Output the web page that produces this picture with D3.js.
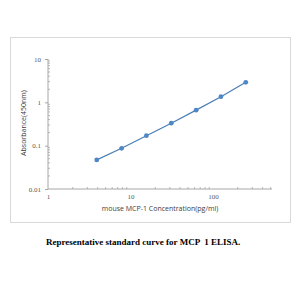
<!DOCTYPE html>
<html>
<head>
<meta charset="utf-8">
<script src="https://cdn.jsdelivr.net/npm/d3@7"></script>
<style>
  body { margin: 0; background: #fff; }
  svg { display: block; }
</style>
</head>
<body>
<script>
const WIDTH = 300;
const HEIGHT = 300;

// standard curve values
var concentrations = [3.9, 7.8, 15.6, 31.25, 62.5, 125, 250];
var absorbance = [0.047, 0.087, 0.17, 0.33, 0.66, 1.35, 2.9];
var xTicks = [1, 10, 100];
var yTicks = [0.01, 0.1, 1, 10];

var svg = d3.select('body').append('svg')
    .attr('width', WIDTH)
    .attr('height', HEIGHT);

// chart frame
svg.append('rect')
    .attr('x', 10.5).attr('y', 37.5)
    .attr('width', 280).attr('height', 185)
    .attr('fill', '#fff')
    .attr('stroke', '#d9d9d9');

var xScale = d3.scaleLog()
    .domain([1, 520])
    .range([48, 272]);
var yScale = d3.scaleLog()
    .domain([0.01, 10])
    .range([189, 59]);

// minor ticks
var xMinor = [];
for (var d = 1; d <= 100; d *= 10) {
    for (var k = 2; k <= 9; k++) if (d * k <= 520) xMinor.push(d * k);
}
var yMinor = [];
for (var e = 0.01; e < 10; e *= 10) {
    for (var m = 2; m <= 9; m++) yMinor.push(e * m);
}

var axisColor = '#a6a6a6';

svg.append('g').selectAll('line')
    .data(xMinor)
    .enter().append('line')
    .attr('x1', function (d) { return xScale(d); })
    .attr('x2', function (d) { return xScale(d); })
    .attr('y1', 189).attr('y2', 187)
    .attr('stroke', axisColor).attr('stroke-width', 0.8);

svg.append('g').selectAll('line')
    .data(yMinor)
    .enter().append('line')
    .attr('y1', function (d) { return yScale(d); })
    .attr('y2', function (d) { return yScale(d); })
    .attr('x1', 48).attr('x2', 50)
    .attr('stroke', axisColor).attr('stroke-width', 0.8);

// axes
var xAxis = d3.axisBottom(xScale)
    .tickValues(xTicks)
    .tickSize(0)
    .tickPadding(5)
    .tickFormat(d3.format('d'));
var yAxis = d3.axisLeft(yScale)
    .tickValues(yTicks)
    .tickSize(3)
    .tickPadding(4)
    .tickFormat(function (d) { return d >= 1 ? d3.format('d')(d) : String(+d.toFixed(2)); });

var gx = svg.append('g')
    .attr('transform', 'translate(0,189)')
    .call(xAxis);
var gy = svg.append('g')
    .attr('transform', 'translate(48,0)')
    .call(yAxis);

[gx, gy].forEach(function (g) {
    g.select('.domain').attr('stroke', axisColor);
    g.selectAll('.tick line').attr('stroke', axisColor);
    g.selectAll('.tick text')
        .attr('fill', '#595959')
        .style('font-family', 'Liberation Serif, serif')
        .style('font-size', '7px');
});
gy.select('.domain').attr('d', 'M0,189V59');
gx.select('.domain').attr('d', 'M48,0H272');

// line and markers
var pts = concentrations.map(function (c, i) { return [c, absorbance[i]]; });
var line = d3.line()
    .x(function (d) { return xScale(d[0]); })
    .y(function (d) { return yScale(d[1]); });

svg.append('path')
    .attr('d', line(pts))
    .attr('fill', 'none')
    .attr('stroke', '#4a7eb7')
    .attr('stroke-width', 1.2);

svg.append('g').selectAll('circle')
    .data(pts)
    .enter().append('circle')
    .attr('cx', function (d) { return xScale(d[0]); })
    .attr('cy', function (d) { return yScale(d[1]); })
    .attr('r', 2.4)
    .attr('fill', '#4f86c6');

// axis titles
svg.append('text')
    .attr('x', 160).attr('y', 211)
    .attr('text-anchor', 'middle')
    .attr('fill', '#404040')
    .style('font-family', 'Open Sans, sans-serif')
    .style('font-size', '7px')
    .text('mouse MCP-1 Concentration(pg/ml)');

svg.append('text')
    .attr('transform', 'translate(26,123) rotate(-90)')
    .attr('text-anchor', 'middle')
    .attr('fill', '#404040')
    .style('font-family', 'Open Sans, sans-serif')
    .style('font-size', '7px')
    .text('Absorbance(450nm)');

// caption
svg.append('text')
    .attr('x', 46).attr('y', 245)
    .attr('fill', '#000')
    .style('font-family', 'Liberation Serif, serif')
    .style('font-weight', 'bold')
    .style('font-size', '9px')
    .style('white-space', 'pre')
    .text('Representative standard curve for MCP  1 ELISA.');
</script>
</body>
</html>
